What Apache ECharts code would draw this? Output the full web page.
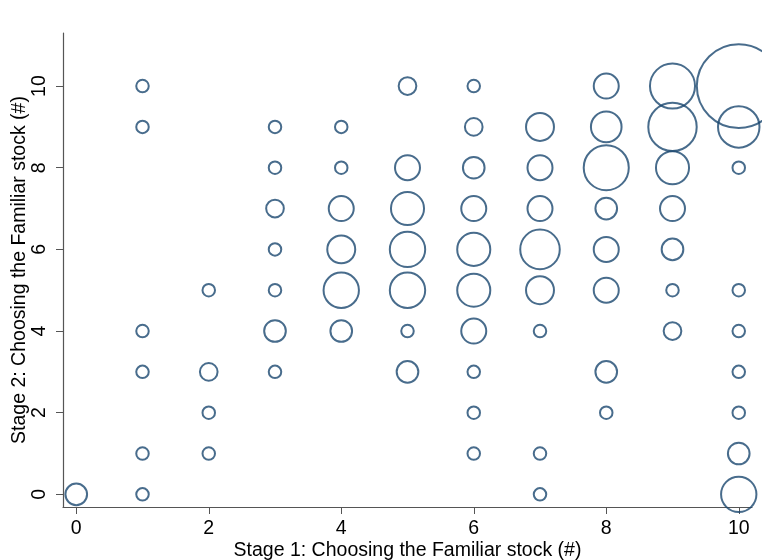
<!DOCTYPE html>
<html>
<head>
<meta charset="utf-8">
<script src="https://cdn.jsdelivr.net/npm/echarts@6/dist/echarts.min.js"></script>
<style>
  html, body { margin: 0; padding: 0; background: #fff; }
  #chart { width: 762px; height: 560px; }
</style>
</head>
<body>
<div id="chart"></div>
<script>
// Stage 1 / Stage 2 choices and number of subjects at each pair
const stage1 = [
  0,
  1, 1, 1, 1, 1, 1,
  2, 2, 2, 2,
  3, 3, 3, 3, 3, 3, 3,
  4, 4, 4, 4, 4, 4,
  5, 5, 5, 5, 5, 5, 5,
  6, 6, 6, 6, 6, 6, 6, 6, 6, 6,
  7, 7, 7, 7, 7, 7, 7, 7,
  8, 8, 8, 8, 8, 8, 8, 8,
  9, 9, 9, 9, 9, 9, 9,
  10, 10, 10, 10, 10, 10, 10, 10, 10
]
const stage2 = [
  0,
  10, 9, 4, 3, 1, 0,
  5, 3, 2, 1,
  9, 8, 7, 6, 5, 4, 3,
  9, 8, 7, 6, 5, 4,
  10, 8, 7, 6, 5, 4, 3,
  10, 9, 8, 7, 6, 5, 4, 3, 2, 1,
  9, 8, 7, 6, 5, 4, 1, 0,
  10, 9, 8, 7, 6, 5, 3, 2,
  10, 9, 8, 7, 6, 5, 4,
  10, 9, 8, 5, 4, 3, 2, 1, 0
]
const counts = [
  3,
  1, 1, 1, 1, 1, 1,
  1, 2, 1, 1,
  1, 1, 2, 1, 1, 3, 1,
  1, 1, 4, 5, 8, 3,
  2, 4, 7, 8, 8, 1, 3,
  1, 2, 3, 4, 7, 7, 4, 1, 1, 1,
  5, 4, 4, 10, 5, 1, 1, 1,
  4, 6, 13, 3, 4, 4, 3, 1,
  13, 15, 7, 4, 3, 1, 2,
  45, 11, 1, 1, 1, 1, 1, 3, 8
]

const xTicks = [0, 2, 4, 6, 8, 10]
const yTicks = [0, 2, 4, 6, 8, 10]

const points = stage1.map((x, i) => [x, stage2[i], counts[i]])

const chart = echarts.init(document.getElementById('chart'))

const axisColor = '#555'
const fontFamily = '"Liberation Sans", Arial, sans-serif'
const fontSize = 19.5

chart.setOption({
  animation: false,
  grid: {
    left: 63,
    right: 10,
    top: 33,
    bottom: 53,
    containLabel: false,
    outerBoundsMode: 'none'
  },
  xAxis: {
    type: 'value',
    min: -0.2,
    max: 10.2,
    name: 'Stage 1: Choosing the Familiar stock (#)',
    nameLocation: 'middle',
    nameGap: 34,
    nameMoveOverlap: false,
    nameTextStyle: { color: '#000', fontSize, fontFamily },
    axisLine: { onZero: false, lineStyle: { color: axisColor, width: 1.2 } },
    axisTick: { customValues: xTicks, length: 7, lineStyle: { color: axisColor } },
    axisLabel: { customValues: xTicks, color: '#000', fontSize, fontFamily, margin: 12 },
    splitLine: { show: false }
  },
  yAxis: {
    type: 'value',
    min: -0.31,
    max: 11.3,
    name: 'Stage 2: Choosing the Familiar stock (#)',
    nameLocation: 'middle',
    nameGap: 33,
    nameMoveOverlap: false,
    nameTextStyle: { color: '#000', fontSize, fontFamily },
    axisLine: { onZero: false, lineStyle: { color: axisColor, width: 1.2 } },
    axisTick: { customValues: yTicks, length: 7, lineStyle: { color: axisColor } },
    axisLabel: { customValues: yTicks, rotate: 90, color: '#000', fontSize, fontFamily, margin: 13 },
    splitLine: { show: false }
  },
  series: [
    {
      type: 'scatter',
      data: points,
      symbol: 'circle',
      symbolSize: (v) => 12.5 * Math.sqrt(v[2]),
      itemStyle: {
        color: 'rgba(0,0,0,0)',
        borderColor: '#1a476f',
        borderWidth: 2
      }
    }
  ]
})
</script>
</body>
</html>
